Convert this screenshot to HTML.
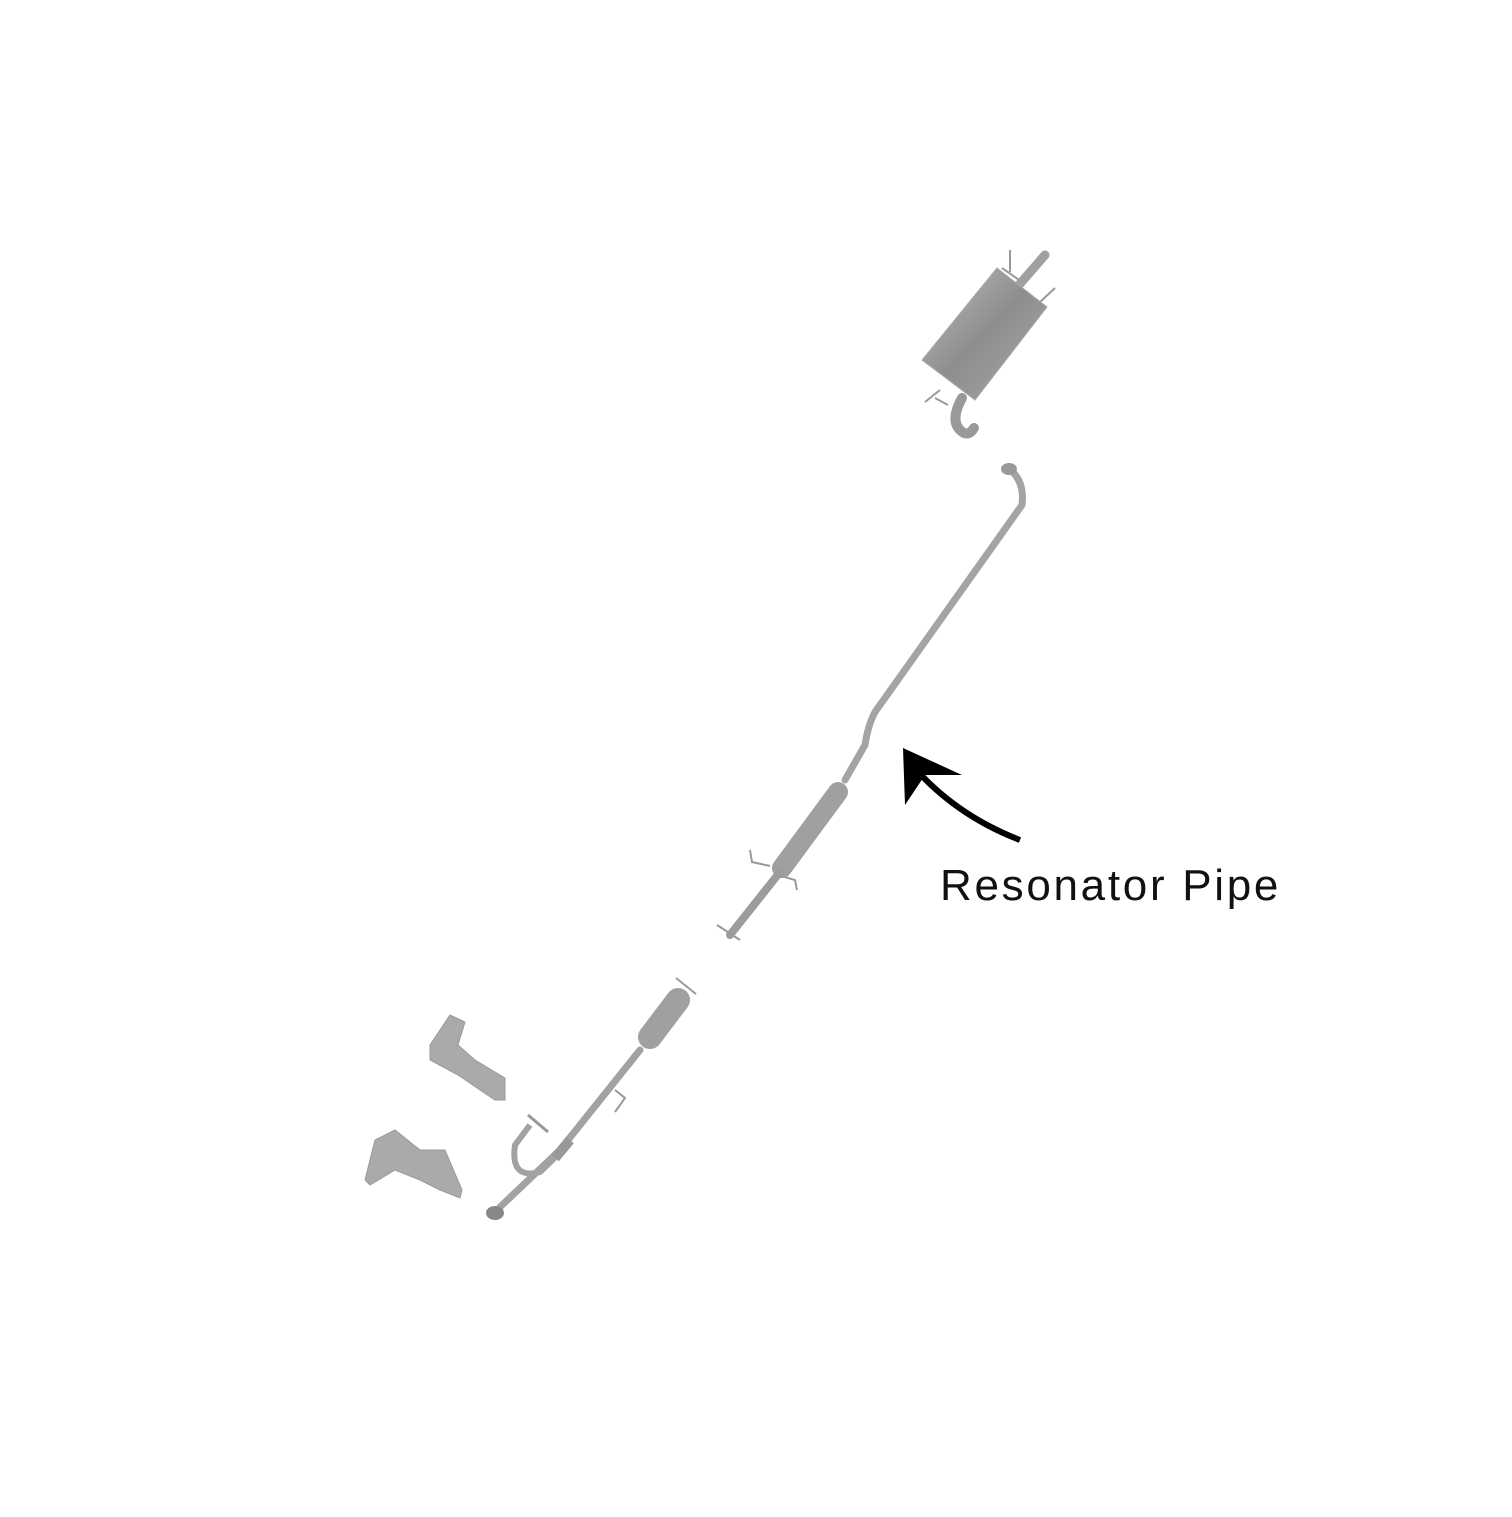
<!DOCTYPE html>
<html><head><style>
html,body{margin:0;padding:0;background:#fff;}
</style></head><body>
<svg width="1512" height="1512" viewBox="0 0 1512 1512" xmlns="http://www.w3.org/2000/svg">
<defs>
<linearGradient id="g" x1="0" y1="0" x2="1" y2="1">
<stop offset="0" stop-color="#bdbdbd"/><stop offset="0.5" stop-color="#8e8e8e"/><stop offset="1" stop-color="#a9a9a9"/>
</linearGradient>
</defs>
<rect width="1512" height="1512" fill="#fff"/>
<g stroke="#999" stroke-width="2" fill="none">
<line x1="1010" y1="272" x2="1010" y2="250"/><line x1="1002" y1="268" x2="1022" y2="282"/>
<line x1="1040" y1="302" x2="1055" y2="288"/>
<line x1="940" y1="390" x2="925" y2="402"/><line x1="935" y1="398" x2="948" y2="405"/>
</g>
<line x1="1018" y1="286" x2="1045" y2="255" stroke="#a0a0a0" stroke-width="9" stroke-linecap="round"/>
<polygon points="997,268 1047,307 975,400 922,360" fill="url(#g)" stroke="#aaa" stroke-width="1"/>
<path d="M962,398 Q950,420 960,430 Q968,438 974,428" stroke="#999" stroke-width="10" fill="none" stroke-linecap="round"/>
<path d="M1008,468 Q1025,480 1022,505 L875,712 Q868,725 865,745 L845,780" stroke="#a4a4a4" stroke-width="7" fill="none" stroke-linecap="round"/>
<ellipse cx="1009" cy="469" rx="8" ry="6" fill="#999"/>
<line x1="838" y1="792" x2="782" y2="868" stroke="#a0a0a0" stroke-width="20" stroke-linecap="round"/>
<path d="M780,872 L730,935" stroke="#9c9c9c" stroke-width="8" stroke-linecap="round"/>
<g stroke="#999" stroke-width="2" fill="none">
<path d="M750,850 L752,862 L770,866"/><path d="M778,875 L795,880 L797,890"/>
<line x1="717" y1="925" x2="740" y2="940"/>
</g>
<line x1="676" y1="978" x2="696" y2="994" stroke="#999" stroke-width="2"/>
<line x1="678" y1="1000" x2="650" y2="1037" stroke="#a0a0a0" stroke-width="24" stroke-linecap="round"/>
<path d="M640,1050 L560,1150 L500,1207" stroke="#a2a2a2" stroke-width="7" fill="none" stroke-linecap="round"/>
<path d="M565,1148 L540,1172 Q510,1180 515,1145 L530,1125" stroke="#a2a2a2" stroke-width="6" fill="none"/>
<line x1="528" y1="1115" x2="548" y2="1132" stroke="#999" stroke-width="3"/>
<line x1="570" y1="1140" x2="555" y2="1158" stroke="#999" stroke-width="10"/>
<path d="M615,1090 L625,1098 L615,1112" stroke="#999" stroke-width="2" fill="none"/>
<ellipse cx="495" cy="1213" rx="9" ry="7" fill="#888"/>
<g fill="#aaa" stroke="#999">
<path d="M430,1045 L450,1015 L465,1022 L458,1045 L475,1060 L505,1078 L505,1100 L495,1100 L480,1090 L458,1075 L430,1060 Z"/>
<path d="M365,1180 L375,1140 L395,1130 L420,1150 L445,1150 L462,1190 L460,1198 L440,1190 L420,1180 L395,1170 L370,1185 Z"/>
</g>
<path d="M1020,840 Q955,815 912,765" stroke="#000" stroke-width="6" fill="none"/>
<path d="M903,748 L962,775 L925,775 L905,805 Z" fill="#000"/>
<text x="940" y="900" font-family="Liberation Sans, sans-serif" font-size="44" letter-spacing="2.7" fill="#111">Resonator Pipe</text>
</svg>
</body></html>
